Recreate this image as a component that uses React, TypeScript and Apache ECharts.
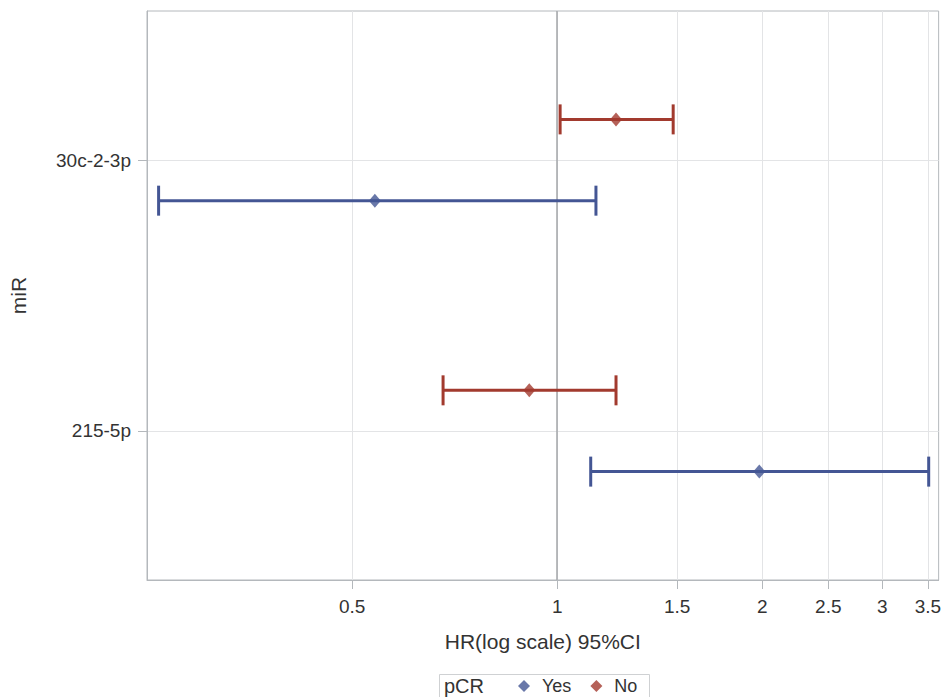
import React, { useEffect, useRef } from "react";
import * as echarts from "echarts";

// ---- data ----
const categories = ["215-5p", "30c-2-3p"]; // bottom to top
const categoryPos = [1, 2];
const xTickValues = [0.5, 1, 1.5, 2, 2.5, 3, 3.5];
const xMinHR = 0.25;
const xMaxHR = 3.63;

const yesHR = [1.98, 0.54];
const yesLower = [1.12, 0.26];
const yesUpper = [3.51, 1.14];

const noHR = [0.91, 1.22];
const noLower = [0.68, 1.01];
const noUpper = [1.22, 1.48];

const groupOffset = { Yes: -0.15, No: 0.15 };

const BLUE = "#445694";
const RED = "#A23A2E";
const FONT = "'Liberation Sans', Arial, Helvetica, sans-serif";

const ln = (v: number) => Math.log(v);

function ciSeries(name: string, lo: number[], hi: number[], off: number, color: string) {
  return {
    type: "custom",
    name: name + " CI",
    silent: true,
    encode: { x: [0, 1], y: 2 },
    data: lo.map((l, i) => [ln(l), ln(hi[i]), categoryPos[i] + off]),
    renderItem: (params: any, api: any) => {
      const a = api.coord([api.value(0), api.value(2)]);
      const b = api.coord([api.value(1), api.value(2)]);
      const cap = 15;
      const style = { stroke: color, lineWidth: 3, fill: null };
      return {
        type: "group",
        children: [
          { type: "line", shape: { x1: a[0], y1: a[1], x2: b[0], y2: b[1] }, style },
          { type: "line", shape: { x1: a[0], y1: a[1] - cap, x2: a[0], y2: a[1] + cap }, style },
          { type: "line", shape: { x1: b[0], y1: b[1] - cap, x2: b[0], y2: b[1] + cap }, style },
        ],
      };
    },
    z: 3,
  };
}

function pointSeries(name: string, hr: number[], off: number, color: string, withRef: boolean) {
  const s: any = {
    type: "scatter",
    name,
    symbol: "diamond",
    symbolSize: [12, 14],
    itemStyle: { color },
    data: hr.map((v, i) => [ln(v), categoryPos[i] + off]),
    z: 4,
  };
  if (withRef) {
    s.markLine = {
      silent: true,
      symbol: ["none", "none"],
      label: { show: false },
      lineStyle: { color: "#a3a6a9", width: 1.5, type: "solid" },
      data: [{ xAxis: ln(1) }],
      z: 2,
    };
  }
  return s;
}

export default function App() {
  const ref = useRef<HTMLDivElement>(null);
  useEffect(() => {
    document.body.style.margin = "0";
    const chart = echarts.init(ref.current!, undefined, { renderer: "svg" });
    const xTicks = xTickValues.map(ln);
    chart.setOption({
      animation: false,
      backgroundColor: "#ffffff",
      textStyle: { fontFamily: FONT },
      grid: {
        left: 143,
        right: 4,
        top: 11,
        bottom: 117,
        show: true,
        borderColor: "#b4b8bc",
        borderWidth: 1,
        backgroundColor: "transparent",
      },
      xAxis: {
        type: "value",
        min: ln(xMinHR),
        max: ln(xMaxHR),
        name: "HR(log scale) 95%CI",
        nameLocation: "middle",
        nameGap: 51,
        nameTextStyle: { fontSize: 21, color: "#333", fontFamily: FONT },
        axisLine: { show: true, onZero: false, lineStyle: { color: "#b4b8bc" } },
        axisTick: {
          show: true,
          length: 9,
          customValues: xTicks,
          lineStyle: { color: "#b4b8bc" },
        },
        axisLabel: {
          customValues: xTicks,
          margin: 17,
          fontSize: 19,
          color: "#333",
          fontFamily: FONT,
          formatter: (v: number) => String(Math.round(Math.exp(v) * 10) / 10),
        },
        splitLine: { show: true, lineStyle: { color: "#e3e4e6", width: 1 } },
      },
      yAxis: {
        type: "value",
        min: 0.45,
        max: 2.55,
        name: "miR",
        nameLocation: "middle",
        nameGap: 118,
        nameTextStyle: { fontSize: 21, color: "#333", fontFamily: FONT },
        axisLine: { show: true, onZero: false, lineStyle: { color: "#b4b8bc" } },
        axisTick: {
          show: true,
          length: 9,
          customValues: categoryPos,
          lineStyle: { color: "#b4b8bc" },
        },
        axisLabel: {
          customValues: categoryPos,
          margin: 16,
          fontSize: 19,
          color: "#333",
          fontFamily: FONT,
          formatter: (v: number) => categories[categoryPos.indexOf(Math.round(v))] ?? "",
        },
        splitLine: { show: true, lineStyle: { color: "#e3e4e6", width: 1 } },
      },
      legend: {
        data: ["Yes", "No"],
        icon: "diamond",
        left: 518,
        top: 677,
        padding: 0,
        itemWidth: 12,
        itemHeight: 12,
        itemGap: 19,
        textStyle: { fontSize: 18, color: "#333", fontFamily: FONT, padding: [0, 0, 0, 7] },
        selectedMode: false,
      },
      graphic: [
        {
          type: "rect",
          left: 437,
          top: 672,
          shape: { width: 210, height: 40 },
          style: { fill: "none", stroke: "#cfd1d3", lineWidth: 1 },
          silent: true,
        },
        {
          type: "text",
          left: 444,
          top: 676,
          style: { text: "pCR", fontSize: 20, fill: "#333", fontFamily: FONT },
          silent: true,
        },
      ],
      series: [
        ciSeries("Yes", yesLower, yesUpper, groupOffset.Yes, BLUE),
        ciSeries("No", noLower, noUpper, groupOffset.No, RED),
        pointSeries("Yes", yesHR, groupOffset.Yes, BLUE, true),
        pointSeries("No", noHR, groupOffset.No, RED, false),
      ],
    });
    return () => chart.dispose();
  }, []);
  return <div ref={ref} style={{ width: 944, height: 697 }} />;
}
